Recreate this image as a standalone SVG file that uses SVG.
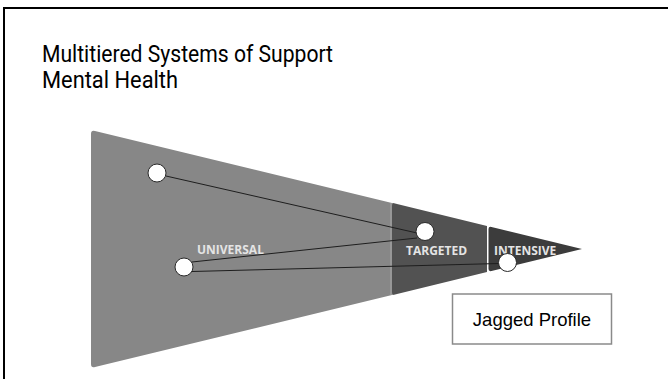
<svg xmlns="http://www.w3.org/2000/svg" width="668" height="379" viewBox="0 0 668 379">
<style>
.title{font-family:Roboto,"Open Sans","Liberation Sans",sans-serif;font-size:24px;fill:#000}
.tier{font-family:"Open Sans","Liberation Sans",sans-serif;font-size:12px;font-weight:bold;fill:#e4e4e4}
.dot{fill:#fff;stroke:#2a2a2a;stroke-width:1}
.link{stroke:#1e1e1e;stroke-width:1;fill:none}
</style>
<rect width="668" height="379" fill="#fff"/>
<g id="frame" fill="none" stroke="#000" stroke-width="2">
<path d="M4 379 V8 H668"/>
</g>
<g id="title">
<text class="title" x="42" y="62" textLength="291" lengthAdjust="spacingAndGlyphs">Multitiered Systems of Support</text>
<text class="title" x="42" y="88" textLength="136" lengthAdjust="spacingAndGlyphs">Mental Health</text>
</g>
<g id="universal">
<path d="M91 134 Q91 130 95 131 L393 203.2 L393 294.8 L95 367 Q91 368 91 364 Z" fill="#878787"/>
<line x1="391" y1="203" x2="391" y2="295" stroke="#a8a8a8" stroke-width="1"/>
<text class="tier" x="197" y="254">UNIVERSAL</text>
</g>
<g id="targeted">
<path d="M392 206 Q392 202 395 203.5 L487 226 L487 272 L395 294.5 Q392 296 392 292 Z" fill="#525252"/>
<text class="tier" x="406" y="255">TARGETED</text>
</g>
<g id="intensive">
<path d="M488.5 229 Q488.5 226.3 491.5 227 L582 249 L491.5 271 Q488.5 271.7 488.5 269 Z" fill="#3c3c3c"/>
<text class="tier" x="494" y="255">INTENSIVE</text>
</g>
<g id="connectors">
<line class="link" x1="166" y1="176" x2="417" y2="233"/>
<line class="link" x1="192" y1="262" x2="417" y2="238"/>
<line class="link" x1="192" y1="271.5" x2="499" y2="263.5"/>
</g>
<g id="circle1"><circle class="dot" cx="157" cy="173" r="9"/></g>
<g id="circle2"><circle class="dot" cx="184" cy="267" r="9"/></g>
<g id="circle3"><circle class="dot" cx="425" cy="231.5" r="9"/></g>
<g id="circle4"><circle class="dot" cx="507.5" cy="262.5" r="9"/></g>
<g id="jagged-profile">
<rect x="452.5" y="294" width="159" height="50" fill="#fff" stroke="#8a8a8a" stroke-width="1.5"/>
<text x="532" y="326" text-anchor="middle" font-family="Liberation Sans, Arial, sans-serif" font-size="18.5" fill="#000">Jagged Profile</text>
</g>
</svg>
